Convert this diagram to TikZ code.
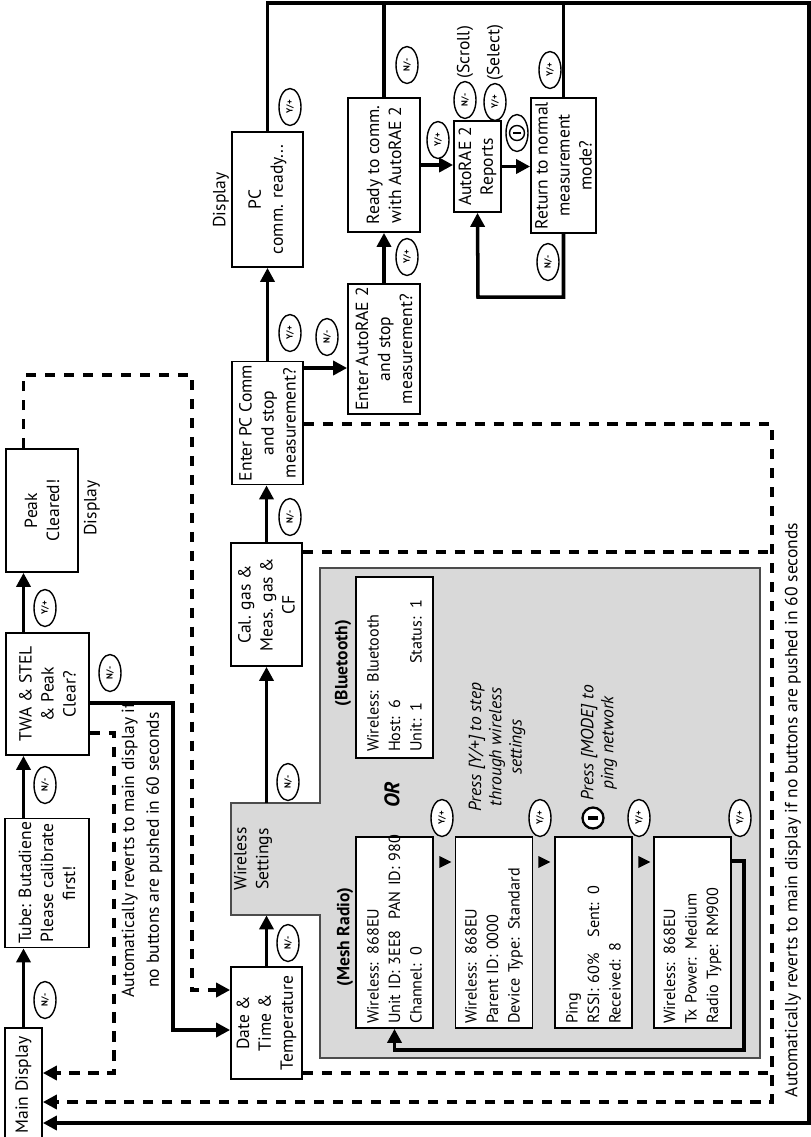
\documentclass[tikz,border=0pt]{standalone}
\usepackage{fontspec}
\setmainfont{PT Sans}
\usetikzlibrary{arrows.meta, shapes.geometric}

\tikzset{
  box/.style={draw, line width=1pt, align=center, inner sep=2pt, font=\fontsize{10}{12.5}\selectfont},
  panel/.style={box, fill=white, align=left, text width=3.66cm, inner xsep=0.08cm, minimum height=1.54cm, font=\fontsize{9.2}{12.2}\selectfont},
  note/.style={align=center, inner sep=1pt, font=\fontsize{10}{12.5}\selectfont},
  btn/.style={draw, ellipse, fill=white, line width=0.8pt, minimum width=0.74cm, minimum height=0.44cm, inner sep=0pt, font=\fontsize{5}{5}\selectfont\bfseries},
  modekey/.style={draw, circle, fill=white, line width=1.3pt, minimum size=0.42cm, inner sep=0pt},
  tip/.style={isosceles triangle, fill, inner sep=0pt, minimum width=0.24cm, minimum height=0.24cm, isosceles triangle stretches, shape border rotate=-90},
  arrow/.style={-{Triangle[length=8pt,width=8pt]}, line width=2pt},
  link/.style={line width=2pt},
  revert/.style={line width=2.1pt, dash pattern=on 5.8pt off 5pt}
}

\begin{document}
\begin{tikzpicture}[x=0.02cm, y=0.02cm, rotate=90, transform shape]
  \useasboundingbox (-1137,-811) rectangle (0,0);

  % grey wireless panel
  \draw[fill=black!15, draw=black!70, line width=0.7pt]
    (-803,-231) -- (-803,-320) -- (-568,-320) -- (-568,-760) -- (-1058,-760)
    -- (-1058,-320) -- (-915,-320) -- (-915,-231) -- cycle;

  % main display chain
  \node[box, minimum width=2.28cm, minimum height=0.74cm] (main) at (-1085,-23.5) {Main Display};
  \node[box, minimum width=2.44cm, minimum height=1.68cm] (tube) at (-883,-47) {Tube: Butadiene\\Please calibrate\\first!};
  \node[box, minimum width=2.44cm, minimum height=1.66cm] (twa) at (-694,-47.5) {TWA \& STEL\\\& Peak\\Clear?};
  \node[box, minimum width=2.46cm, minimum height=1.44cm] (peak) at (-510.5,-42) {Peak\\Cleared!};
  \node[note] (disp1) at (-508,-92) {Display};

  \draw[arrow] (main.east) -- (tube.west |- main);
  \draw[arrow] (tube.east |- main) -- (twa.west |- main);
  \draw[arrow] (twa.east |- main) -- (peak.west |- main);
  \node[btn] (k1) at (-1000,-45) {N/-};
  \node[btn] (k2) at (-785,-45) {N/-};
  \node[btn] (k3) at (-608,-45) {Y/+};

  % settings column
  \node[box, minimum width=2.24cm, minimum height=1.42cm] (date) at (-1023,-266.5) {Date \&\\Time \&\\Temperature};
  \node[note, minimum width=2.24cm] (wire) at (-859,-253) {Wireless\\Settings};
  \node[box, minimum width=2.46cm, minimum height=1.42cm] (cal) at (-604.5,-266.5) {Cal. gas \&\\Meas. gas \&\\CF};
  \node[box, minimum width=2.44cm, minimum height=1.42cm] (enter) at (-423,-267.5) {Enter PC Comm\\and stop\\measurement?};
  \node[box, minimum width=2.7cm, minimum height=1.42cm] (pc) at (-199.5,-267.5) {PC\\comm. ready...};
  \node[note] (disp2) at (-200,-221) {Display};

  \draw[arrow] (date.east) -- (wire.west |- date);
  \draw[arrow] (wire.east |- cal) -- (cal.west);
  \draw[arrow] (cal.east) -- (enter.west |- cal);
  \draw[arrow] (enter.east) -- (pc.west);
  \node[btn] (k4) at (-943,-288) {N/-};
  \node[btn] (k5) at (-782,-288) {N/-};
  \node[btn] (k6) at (-517,-290) {N/-};
  \node[btn] (k7) at (-333,-290) {Y/+};
  \node[btn] (k8) at (-107,-290) {Y/+};

  % TWA branches
  \coordinate (tw1) at (-703,-173);
  \coordinate (tw2) at (-1030,-173);
  \draw[arrow] (tw1 |- twa.south) -- (tw1) -- (tw2) -- (tw2 |- date.north);
  \node[btn] (k9) at (-673,-110) {N/-};
  \coordinate (tw3) at (-733,-114);
  \coordinate (tw4) at (-1073,-114);
  \draw[arrow, revert] (tw3 |- twa.south) -- (tw3) -- (tw4) -- (tw4 |- main.south);
  \node[note, font=\fontsize{10}{14}\selectfont] (auto1) at (-850,-142) {Automatically reverts to main display if\\no buttons are pushed in 60 seconds};

  % peak cleared back to date
  \coordinate (pk1) at (-375,-192);
  \coordinate (pk2) at (-990,-192);
  \draw[arrow, revert] (peak.east |- main) -| (pk1) -- (pk2) -- (pk2 |- date.north);

  % AutoRAE 2 branch
  \node[box, minimum width=2.56cm, minimum height=1.44cm] (auto) at (-349,-384) {Enter AutoRAE 2\\and stop\\measurement?};
  \node[box, minimum width=2.68cm, minimum height=1.44cm] (ready) at (-165,-384) {Ready to comm.\\with AutoRAE 2};
  \node[box, minimum width=1.82cm, minimum height=0.94cm] (rep) at (-166.5,-477.5) {AutoRAE 2\\Reports};
  \node[box, minimum width=2.7cm, minimum height=1.3cm] (ret) at (-165.5,-563.5) {Return to normal\\measurement\\mode?};

  \coordinate (ea) at (-368,0);
  \draw[arrow] (ea |- enter.south) -- (ea |- auto.north);
  \draw[arrow] (auto.east) -- (ready.west);
  \draw[arrow] (ready.south) -- (ready.south |- rep.north);
  \draw[arrow] (rep.south) -- (rep.south |- ret.north);
  \coordinate (rl) at (-297,-478);
  \draw[arrow] (ret.west) -| (rl) -- (rep.west);
  \node[btn] (k10) at (-337,-327) {N/-};
  \node[btn] (k11) at (-257,-407) {Y/+};
  \node[btn] (k12) at (-65,-407) {N/-};
  \node[btn] (k13) at (-140,-438) {Y/+};
  \node[btn] (scroll) at (-100,-465) {N/-};
  \node[note, anchor=west] (scrolltxt) at (scroll.east) {(Scroll)};
  \node[btn] (select) at (-102,-495) {Y/+};
  \node[note, anchor=west] (selecttxt) at (select.east) {(Select)};
  \node[btn] (k14) at (-70,-550) {Y/+};
  \node[btn] (k15) at (-262,-548) {N/-};
  \node[btn] (modeb) at (-133,-517) {};
  \node[modekey, line width=0.8pt, minimum size=0.3cm] (mode1) at (modeb) {\rule[-2.5pt]{1.2pt}{5pt}};

  % outer frame back to main display
  \coordinate (tr) at (-3,-809);
  \coordinate (br) at (-1123,-809);
  \draw[arrow] (pc.east) -| (tr) -- (br) -- (br |- main.south);
  \draw[link] (ready.east) -- (ready.east -| tr);
  \draw[link] (ret.east) -- (ret.east -| tr);

  % timeout lines
  \coordinate (rv1) at (-424,-772);
  \coordinate (rv2) at (-552,-772);
  \coordinate (rv3) at (-1073,-772);
  \coordinate (rv4) at (-1102,-772);
  \draw[arrow, revert] (rv1 |- enter.south) -- (rv1) -- (rv4) -- (rv4 |- main.south);
  \draw[revert] (rv2 |- cal.south) -- (rv2);
  \draw[revert] (rv3 |- date.south) -- (rv3);
  \node[note] (auto2) at (-810,-793) {Automatically reverts to main display if no buttons are pushed in 60 seconds};

  % wireless screens
  \node[note, font=\fontsize{10}{12}\selectfont\bfseries] (btlab) at (-663,-343) {(Bluetooth)};
  \node[panel, text width=3.38cm, inner xsep=0.12cm] (bt) at (-667.5,-394.5) {Wireless: Bluetooth\\Host: 6\\Unit: 1\hspace{2.4em}Status: 1};
  \node[note, font=\fontsize{12}{12}\selectfont\bfseries\itshape] (or) at (-795,-392) {OR};
  \node[note, font=\fontsize{10}{11.5}\selectfont\itshape] (hint1) at (-747,-497) {Press [Y/+] to step\\through wireless\\settings};
  \node[note, font=\fontsize{10}{11.5}\selectfont\itshape] (hint2) at (-743,-599) {Press [MODE] to\\ping network};
  \node[modekey] (mode2) at (-818,-593) {\rule[-3pt]{1.8pt}{6pt}};

  \node[note, font=\fontsize{10}{12}\selectfont\bfseries] (meshlab) at (-937,-345) {(Mesh Radio)};
  \node[panel] (m1) at (-932.5,-394.5) {Wireless: 868EU\\\mbox{Unit ID: 3EE8\ \ PAN ID: 980}\\Channel: 0};
  \node[panel] (m2) at (-932.5,-494) {Wireless: 868EU\\Parent ID: 0000\\Device Type: Standard};
  \node[panel] (m3) at (-932.5,-593.5) {Ping\\RSSI: 60\%\hspace{1em}Sent: 0\\Received: 8};
  \node[panel] (m4) at (-932.5,-692.5) {Wireless: 868EU\\Tx Power: Medium\\Radio Type: RM900};

  \node[tip] (t1) at (-862,-443) {};
  \node[tip] (t2) at (-862,-542) {};
  \node[tip] (t3) at (-862,-642) {};
  \node[btn] (y1) at (-818,-442) {Y/+};
  \node[btn] (y2) at (-818,-540) {Y/+};
  \node[btn] (y3) at (-818,-639) {Y/+};
  \node[btn] (y4) at (-818,-740) {Y/+};

  \coordinate (ml1) at (-861,-744);
  \coordinate (ml2) at (-1050,-744);
  \draw[arrow] (ml1 |- m4.south) -- (ml1) -- (ml2) |- (m1.west);
\end{tikzpicture}
\end{document}
